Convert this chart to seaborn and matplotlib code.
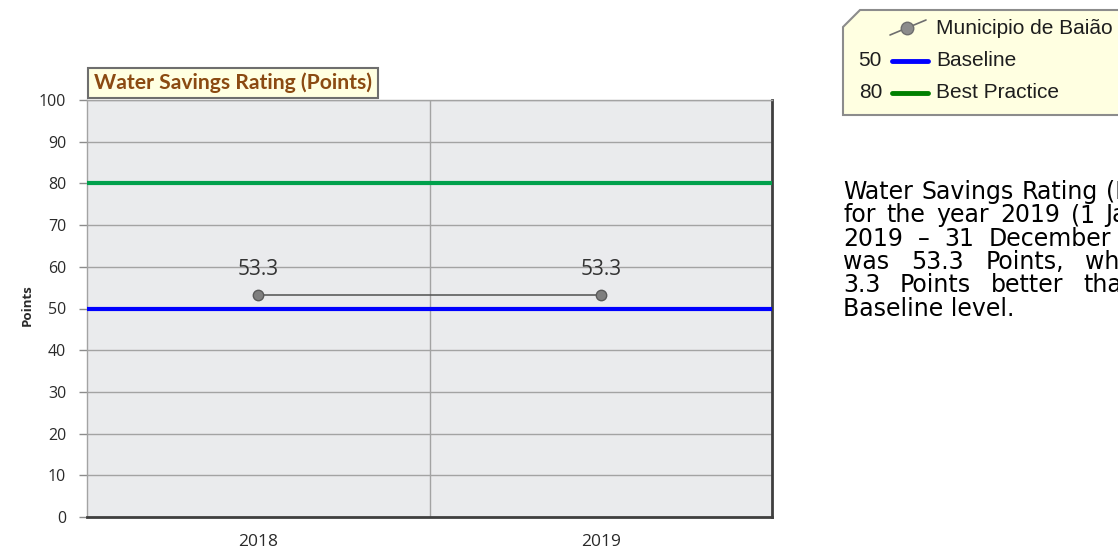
import numpy as np
import pandas as pd
import matplotlib
matplotlib.use("Agg")
import matplotlib.pyplot as plt
import seaborn as sns
from matplotlib.patches import Polygon, Rectangle
from matplotlib.lines import Line2D
from matplotlib.transforms import Affine2D

# ---- data ---------------------------------------------------------------
years = ["2018", "2019"]
rating = [53.3, 53.3]
baseline = 50
best_practice = 80
series_name = "Municipio de Baião"
baseline_name = "Baseline"
best_name = "Best Practice"
y_ticks = list(range(0, 101, 10))
chart_title = "Water Savings Rating (Points)"
y_label = "Points"
summary_lines = [
    "Water Savings Rating (Points)",
    "for the year 2019 (1 January",
    "2019 – 31 December 2019)",
    "was 53.3 Points, which is",
    "3.3 Points better than the",
    "Baseline level.",
]

# ---- styling ------------------------------------------------------------
sns.set_theme(style="white")
plt.rcParams["font.family"] = ["Open Sans", "DejaVu Sans"]

W, H = 1118, 550
fig = plt.figure(figsize=(W / 100, H / 100), dpi=100)
px = Affine2D().scale(1, -1).translate(0, H)  # pixel coords, origin top-left

ax = fig.add_axes([87 / W, 1 - 517 / H, (772 - 87) / W, (517 - 100) / H])
ax.set_facecolor("#EAEBED")

df = pd.DataFrame({"pos": np.arange(len(years)), "year": years, "value": rating})

# reference levels
ax.axhline(best_practice, color="#00A04C", lw=3.0, zorder=3)
ax.axhline(baseline, color="#0000FF", lw=3.0, zorder=3)

# rating series
sns.lineplot(data=df, x="pos", y="value", ax=ax, color="#505050", lw=1.1,
             marker="o", markersize=7.5, markerfacecolor="#7F7F7F",
             markeredgecolor="#5A5A5A", markeredgewidth=1.0, zorder=5,
             legend=False)
for x, v in zip(df["pos"], df["value"]):
    ax.annotate(f"{v:.1f}", (x, v), xytext=(0, 14), textcoords="offset points",
                ha="center", va="baseline", fontsize=15, color="#333333",
                zorder=6)

ax.set_xlim(-0.5, len(years) - 0.5)
ax.set_ylim(0, 100)
ax.set_yticks(y_ticks)
ax.set_xticks(df["pos"])
ax.set_xticklabels(years)
ax.set_xlabel("")
ax.set_ylabel("")

ax.yaxis.grid(True, color="#A3A3A3", lw=1.0)
ax.set_axisbelow(True)
for xb in np.arange(len(years) - 1) + 0.5:
    ax.axvline(xb, color="#A3A3A3", lw=1.0, zorder=1)

ax.tick_params(axis="y", left=True, length=6, width=1, color="#8C8C8C",
               labelsize=11.5, labelcolor="#2A2A2A", pad=9)
ax.tick_params(axis="x", bottom=False, length=0, labelsize=12.5,
               labelcolor="#2A2A2A", pad=12)

for side in ("left", "top"):
    ax.spines[side].set_color("#A3A3A3")
    ax.spines[side].set_linewidth(1.0)
for side in ("right", "bottom"):
    ax.spines[side].set_color("#3F3F3F")
    ax.spines[side].set_linewidth(2.0)

fig.text(27, 305, y_label, transform=px, rotation=90, ha="center", va="center",
         fontsize=9.5, fontweight="bold", color="#2A2A2A")

# chart title box
fig.patches.append(Rectangle((88, 68), 290, 30, transform=px, facecolor="#FFFFE1",
                             edgecolor="#6E6E6E", lw=1.5, zorder=10))
fig.text(233, 83, chart_title, transform=px, ha="center", va="center",
         fontsize=15.2, fontweight="bold", color="#8B4A12",
         family=["Lato", "DejaVu Sans"], zorder=11)

# legend box with clipped corner
legend_poly = Polygon([(843, 27), (860, 10), (1125, 10), (1125, 115), (843, 115)],
                      closed=True, transform=px, facecolor="#FFFFE1",
                      edgecolor="#8C8C8C", lw=1.5, zorder=10)
fig.patches.append(legend_poly)
leg_font = dict(fontsize=15, color="#1E1E1E", family=["Liberation Sans", "DejaVu Sans"],
                va="center", zorder=12)
fig.lines.append(Line2D([890, 926], [35, 20], transform=px, color="#6E6E6E", lw=1.2, zorder=11))
fig.lines.append(Line2D([907], [28], transform=px, marker="o", markersize=9,
                        markerfacecolor="#8C8C8C", markeredgecolor="#6E6E6E", zorder=12))
fig.text(936, 28, series_name, transform=px, ha="left", **leg_font)

fig.text(882, 61, f"{baseline}", transform=px, ha="right", **leg_font)
fig.lines.append(Line2D([892, 928], [61, 61], transform=px, color="#0000FF", lw=3.5, zorder=11))
fig.text(936, 61, baseline_name, transform=px, ha="left", **leg_font)

fig.text(882, 93, f"{best_practice}", transform=px, ha="right", **leg_font)
fig.lines.append(Line2D([892, 928], [93, 93], transform=px, color="#008000", lw=3.5, zorder=11))
fig.text(936, 93, best_name, transform=px, ha="left", **leg_font)

# justified paragraph: every line but the last is stretched to the column width,
# which is the natural width of the widest line
renderer = fig.canvas.get_renderer()
para_font = dict(fontsize=17, color="#000000", family=["DejaVu Sans"], va="baseline")
x0 = 843
base_y, pitch = 199, 23.3
probe = [fig.text(0, 0, s, transform=px, **para_font) for s in summary_lines]
col_w = max(p.get_window_extent(renderer).width for p in probe) + 2
for p in probe:
    p.remove()
x1 = x0 + col_w
for i, line in enumerate(summary_lines):
    y = base_y + i * pitch
    if i == len(summary_lines) - 1:
        fig.text(x0, y, line, transform=px, ha="left", **para_font)
        continue
    words = line.split(" ")
    arts = [fig.text(0, y, w, transform=px, ha="left", **para_font) for w in words]
    widths = [a.get_window_extent(renderer).width for a in arts]
    gap = (x1 - x0 - sum(widths)) / (len(words) - 1)
    x = x0
    for a, w in zip(arts, widths):
        a.set_x(x)
        x += w + gap

fig.savefig("out.png", dpi=100, facecolor="white")
